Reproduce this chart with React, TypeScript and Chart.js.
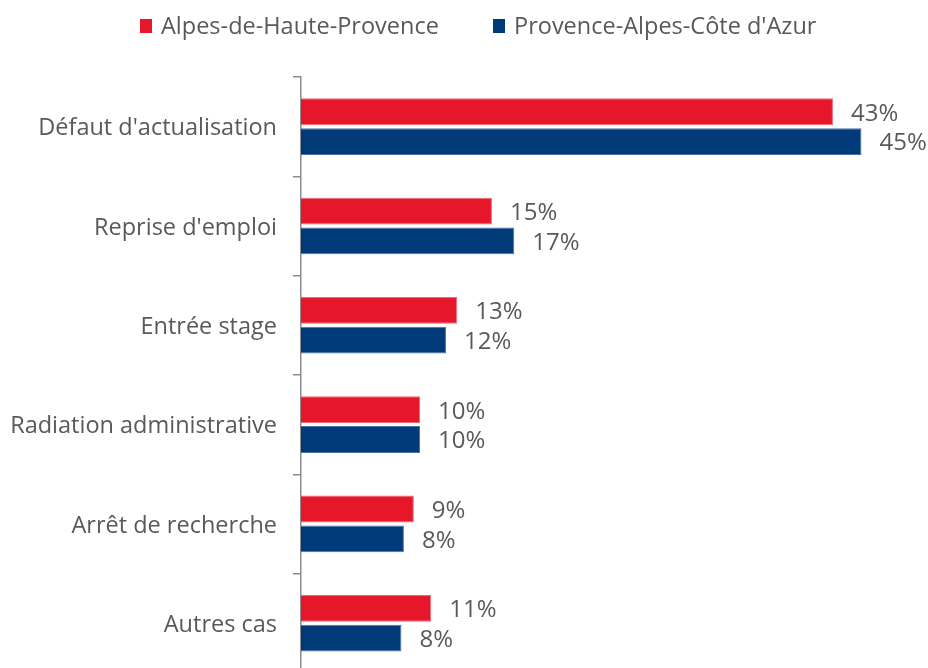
import React, { useEffect, useRef } from "react";
import { Chart, registerables } from "chart.js";

Chart.register(...registerables);

const categories = [
  "Défaut d'actualisation",
  "Reprise d'emploi",
  "Entrée stage",
  "Radiation administrative",
  "Arrêt de recherche",
  "Autres cas",
];
const seriesNames = ["Alpes-de-Haute-Provence", "Provence-Alpes-Côte d'Azur"];
const alpesValues = [42.9, 15.4, 12.6, 9.6, 9.1, 10.5];
const pacaValues = [45.2, 17.2, 11.7, 9.6, 8.3, 8.1];

const RED = "#E6162B";
const BLUE = "#003A79";
const TEXT = "#595959";
const FONT = "'Open Sans', sans-serif";

const legendPlugin = {
  id: "customLegend",
  afterDraw(chart: any) {
    const ctx = chart.ctx;
    const items = [
      { x: 140, color: RED, label: chart.data.datasets[0].label },
      { x: 493, color: BLUE, label: chart.data.datasets[1].label },
    ];
    ctx.save();
    ctx.font = `23.5px ${FONT}`;
    ctx.textBaseline = "middle";
    ctx.textAlign = "left";
    items.forEach((it) => {
      ctx.fillStyle = it.color;
      ctx.fillRect(it.x, 19, 12, 14);
      ctx.fillStyle = TEXT;
      ctx.fillText(it.label, it.x + 21, 27);
    });
    ctx.restore();
  },
};

const valueLabelPlugin = {
  id: "valueLabels",
  afterDatasetsDraw(chart: any) {
    const ctx = chart.ctx;
    ctx.save();
    ctx.font = `24px ${FONT}`;
    ctx.fillStyle = TEXT;
    ctx.textBaseline = "middle";
    ctx.textAlign = "left";
    chart.data.datasets.forEach((ds: any, di: number) => {
      const meta = chart.getDatasetMeta(di);
      meta.data.forEach((bar: any, i: number) => {
        const v = ds.data[i];
        ctx.fillText(Math.round(v) + "%", bar.x + 18, bar.y + 2);
      });
    });
    ctx.restore();
  },
};

export default function App() {
  const ref = useRef<HTMLCanvasElement | null>(null);
  useEffect(() => {
    if (!ref.current) return;
    const chart = new Chart(ref.current, {
      type: "bar",
      data: {
        labels: categories,
        datasets: [
          {
            label: seriesNames[0],
            data: alpesValues,
            backgroundColor: RED,
            borderColor: "#F06A76",
            borderWidth: 1,
            categoryPercentage: 0.6,
            barPercentage: 0.9,
          },
          {
            label: seriesNames[1],
            data: pacaValues,
            backgroundColor: BLUE,
            borderColor: "#4A73A3",
            borderWidth: 1,
            categoryPercentage: 0.6,
            barPercentage: 0.9,
          },
        ],
      },
      options: {
        indexAxis: "y",
        responsive: false,
        animation: false,
        layout: { padding: { top: 77, right: 7, bottom: 0, left: 0 } },
        plugins: {
          legend: { display: false },
          tooltip: { enabled: false },
        },
        scales: {
          x: {
            display: false,
            min: 0,
            max: 50,
          },
          y: {
            afterFit: (scale: any) => {
              scale.width = 301;
            },
            grid: {
              drawOnChartArea: false,
              drawTicks: true,
              tickLength: 8,
              color: "#8C8C8C",
              lineWidth: 1.5,
              offset: true,
            },
            border: { display: true, color: "#8C8C8C", width: 1.5 },
            ticks: {
              color: TEXT,
              font: { family: FONT, size: 23.5 },
              padding: 16,
              labelOffset: 2,
            },
          },
        },
      },
      plugins: [legendPlugin, valueLabelPlugin],
    });
    return () => chart.destroy();
  }, []);
  return (
    <div
      style={{
        position: "absolute",
        top: 0,
        left: 0,
        width: 928,
        height: 668,
        overflow: "hidden",
        background: "#fff",
      }}
    >
      <canvas ref={ref} width={928} height={703} />
    </div>
  );
}
